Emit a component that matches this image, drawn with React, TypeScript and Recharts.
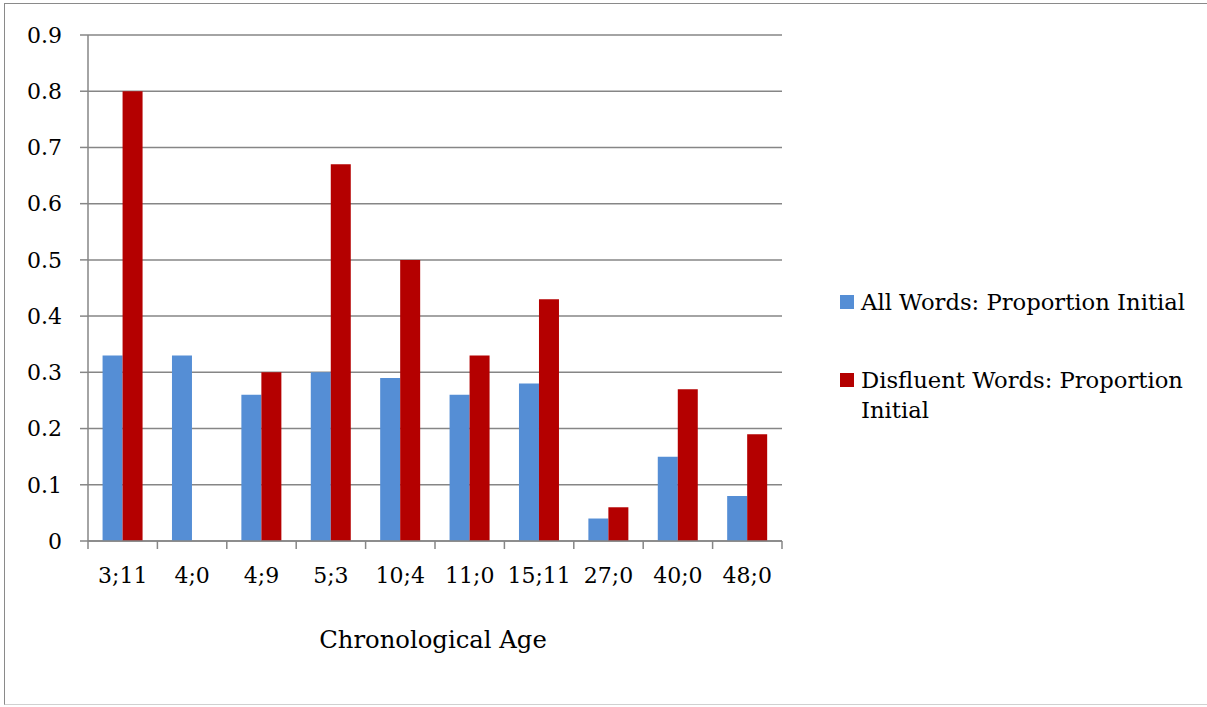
import React from "react";
import { BarChart, Bar, XAxis, YAxis, CartesianGrid, Legend } from "recharts";

const categories = ["3;11", "4;0", "4;9", "5;3", "10;4", "11;0", "15;11", "27;0", "40;0", "48;0"];
const allWords = [0.33, 0.33, 0.26, 0.3, 0.29, 0.26, 0.28, 0.04, 0.15, 0.08];
const disfluentWords = [0.8, 0, 0.3, 0.67, 0.5, 0.33, 0.43, 0.06, 0.27, 0.19];
const yTicks = [0, 0.1, 0.2, 0.3, 0.4, 0.5, 0.6, 0.7, 0.8, 0.9];
const seriesNames = ["All Words: Proportion Initial", "Disfluent Words: Proportion Initial"];
const axisTitle = "Chronological Age";

const data = categories.map((c, i) => ({ age: c, all: allWords[i], dis: disfluentWords[i] }));

const W = 1207;
const H = 707;
const PLOT_LEFT = 88;
const PLOT_RIGHT = 782;
const PLOT_TOP = 35;
const PLOT_BOTTOM = 541;
const X_AXIS_H = 120;
const BAND = (PLOT_RIGHT - PLOT_LEFT) / categories.length;
const FONT = "'DejaVu Serif', serif";
const GRAY = "#868686";
const BLUE = "#558ED5";
const RED = "#B40000";

function XTick(props: any) {
  const { x, y, index, payload } = props;
  const left = x - BAND / 2;
  const right = x + BAND / 2;
  return (
    <g>
      <line x1={left} x2={left} y1={y} y2={y + 8} stroke={GRAY} strokeWidth={1.5} />
      {index === categories.length - 1 && (
        <line x1={right} x2={right} y1={y} y2={y + 8} stroke={GRAY} strokeWidth={1.5} />
      )}
      <text x={x} y={y + 42} textAnchor="middle" fontFamily={FONT} fontSize={22} fill="#000">
        {payload.value}
      </text>
    </g>
  );
}

function AxisTitle(props: any) {
  const vb = props.viewBox || {};
  return (
    <text
      x={vb.x + vb.width / 2 - 2}
      y={vb.y + 107}
      textAnchor="middle"
      fontFamily={FONT}
      fontSize={24.3}
      fill="#000"
    >
      {axisTitle}
    </text>
  );
}

function LegendContent() {
  const colors = [BLUE, RED];
  return (
    <div style={{ fontFamily: FONT, fontSize: 22.7, color: "#000", width: 367 }}>
      {seriesNames.map((n, i) => (
        <div key={n} style={{ display: "flex", alignItems: "flex-start", marginBottom: i === 0 ? 48 : 0 }}>
          <div style={{ width: 14, height: 14, background: colors[i], marginTop: 8, marginRight: 7, flex: "none" }} />
          <div style={{ lineHeight: "30px", width: 340 }}>{n}</div>
        </div>
      ))}
    </div>
  );
}

export default function App() {
  return (
    <div style={{ position: "absolute", left: 0, top: 0, width: W, height: H, background: "#fff" }}>
      <div
        style={{
          position: "absolute",
          left: 4,
          top: 3,
          width: W,
          height: 702,
          borderLeft: "1px solid #8a8a8a",
          borderTop: "1px solid #8a8a8a",
          borderBottom: "1px solid #d0d0d0",
          boxSizing: "border-box",
        }}
      />
      <div style={{ position: "absolute", left: 0, top: 0 }}>
        <BarChart
          width={W}
          height={H}
          data={data}
          margin={{ top: PLOT_TOP, right: W - PLOT_RIGHT, left: 0, bottom: H - PLOT_BOTTOM - X_AXIS_H }}
          barCategoryGap="21%"
          barGap={0}
        >
          <CartesianGrid vertical={false} stroke={GRAY} strokeWidth={1.5} />
          <XAxis
            dataKey="age"
            height={X_AXIS_H}
            stroke={GRAY}
            strokeWidth={1.5}
            tickLine={false}
            tickSize={0}
            tickMargin={0}
            interval={0}
            tick={<XTick />}
            label={<AxisTitle />}
          />
          <YAxis
            width={PLOT_LEFT}
            domain={[0, 0.9]}
            ticks={yTicks}
            interval={0}
            stroke={GRAY}
            strokeWidth={1.5}
            tickSize={8}
            tickMargin={18}
            tickFormatter={(v: number) => (v === 0 ? "0" : v.toFixed(1))}
            tick={{ fontFamily: FONT, fontSize: 22, fill: "#000" }}
          />
          <Legend
            layout="horizontal"
            verticalAlign="middle"
            align="center"
            wrapperStyle={{ left: 840, top: 287, width: 367 }}
            content={<LegendContent />}
          />
          <Bar dataKey="all" name={seriesNames[0]} fill={BLUE} isAnimationActive={false} />
          <Bar dataKey="dis" name={seriesNames[1]} fill={RED} isAnimationActive={false} />
        </BarChart>
      </div>
    </div>
  );
}
